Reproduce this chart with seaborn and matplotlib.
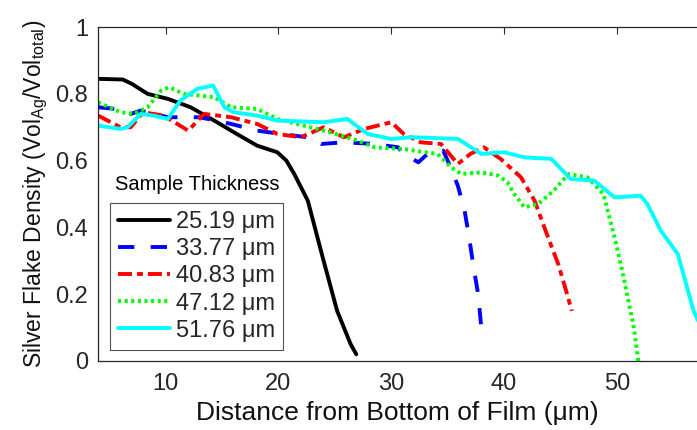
import matplotlib
matplotlib.use("Agg")
import matplotlib.pyplot as plt
import seaborn as sns
import pandas as pd

# ---------------- data ----------------
labels = ["25.19 μm", "33.77 μm", "40.83 μm", "47.12 μm", "51.76 μm"]

black_x = [4, 6.2, 7, 8.4, 10.2, 12.2, 14.3, 16.3, 18.1, 19.9, 20.7, 21.4, 22.6, 24.0, 25.2, 26.4, 26.9]
black_y = [0.845, 0.843, 0.83, 0.80, 0.785, 0.76, 0.72, 0.68, 0.645, 0.625, 0.60, 0.56, 0.48, 0.30, 0.15, 0.05, 0.02]

blue_x = [4, 5.5, 6.9, 7.8, 9, 10.2, 13, 15.8, 18.1, 20.2, 22.6, 23.8, 25.8, 28.5, 30.6, 31.1, 32.4,
          33.2, 34.6, 35.0, 35.9, 36.5, 36.9, 37.3, 37.7, 37.95]
blue_y = [0.76, 0.755, 0.74, 0.75, 0.74, 0.73, 0.73, 0.71, 0.69, 0.68, 0.67, 0.65, 0.655, 0.65, 0.64, 0.62, 0.595,
          0.62, 0.63, 0.60, 0.525, 0.45, 0.37, 0.28, 0.20, 0.11]

red_x = [4, 6, 6.9, 8, 9.8, 12, 13.4, 15.8, 18.1, 19.9, 22, 24, 25.8, 27.6, 30, 31.1, 32.6, 34.4, 35.9,
         37, 38.2, 39.7, 41.5, 42.7, 43.9, 44.8, 45.5, 46]
red_y = [0.735, 0.70, 0.70, 0.745, 0.735, 0.69, 0.74, 0.73, 0.71, 0.68, 0.67, 0.70, 0.67, 0.695, 0.715, 0.68,
         0.655, 0.65, 0.59, 0.62, 0.64, 0.605, 0.55, 0.48, 0.37, 0.29, 0.21, 0.15]

green_x = [4, 6, 7.2, 8.4, 9.6, 10.3, 11.6, 14.3, 15.8, 18.1, 19.9, 22.2, 24.6, 27, 28.5, 31.1, 32, 34.1,
           35.3, 36.2, 38, 39.5, 40.3, 40.9, 41.8, 43, 44.4, 45.7, 47.4, 48.8, 49.8, 50.6, 51.5, 51.9]
green_y = [0.775, 0.745, 0.74, 0.76, 0.81, 0.82, 0.80, 0.79, 0.76, 0.755, 0.725, 0.705, 0.685, 0.66, 0.64,
           0.635, 0.63, 0.62, 0.58, 0.56, 0.565, 0.555, 0.535, 0.50, 0.46, 0.47, 0.51, 0.56, 0.55, 0.50,
           0.37, 0.25, 0.10, 0.0]

cyan_x = [4, 6, 6.6, 7.8, 8.9, 10.2, 11.3, 12.8, 14.2, 15.2, 16, 18.1, 19.9, 24, 26.1, 27.9, 30, 31.7, 32,
          35.9, 38, 40, 41.8, 44.2, 45.9, 48, 49.8, 52.1, 52.7, 53.9, 55.4, 56.8, 57.2]
cyan_y = [0.705, 0.695, 0.70, 0.74, 0.735, 0.725, 0.78, 0.815, 0.825, 0.76, 0.745, 0.735, 0.72, 0.715,
          0.725, 0.68, 0.665, 0.67, 0.67, 0.665, 0.62, 0.625, 0.61, 0.605, 0.545, 0.54, 0.49, 0.495, 0.47,
          0.39, 0.32, 0.15, 0.12]

x_ticks = [10, 20, 30, 40, 50]
y_ticks = [0, 0.2, 0.4, 0.6, 0.8, 1]
y_ticklabels = ["0", "0.2", "0.4", "0.6", "0.8", "1"]

series_x = [black_x, blue_x, red_x, green_x, cyan_x]
series_y = [black_y, blue_y, red_y, green_y, cyan_y]
colors = ["#000000", "#0000ff", "#ff0000", "#00ff00", "#00ffff"]
styles = ["-", (0, (4.2, 4.2)), (0, (3.6, 1.3, 1.5, 1.3)), (0, (0.8, 0.9)), "-"]

# ---------------- plot ----------------
sns.set_style("white")
plt.rcParams["font.family"] = ["Liberation Sans", "DejaVu Sans"]

fig = plt.figure(figsize=(6.97, 4.30), dpi=100)
ax = fig.add_axes([0.1406, 0.1605, 0.8594, 0.7765])

for xs, ys, lab, c, ls in zip(series_x, series_y, labels, colors, styles):
    df = pd.DataFrame({"x": xs, "y": ys})
    sns.lineplot(data=df, x="x", y="y", ax=ax, color=c, linewidth=2.8,
                 linestyle=ls, label=lab, sort=False, estimator=None)
for line in ax.get_lines():
    line.set_solid_joinstyle("round")
    line.set_dash_joinstyle("round")

ax.set_xlim(4, 57.1)
ax.set_ylim(0, 1)
ax.set_xticks(x_ticks)
ax.set_yticks(y_ticks)
ax.set_yticklabels(y_ticklabels)
ax.tick_params(direction="in", length=5, width=0.8, labelsize=17, colors="#262626",
               top=True, right=False)
ax.tick_params(axis="x", pad=9)
ax.tick_params(axis="y", pad=7)
for lab in ax.get_xticklabels() + ax.get_yticklabels():
    lab.set_color("#262626")
for side in ["left", "bottom", "top"]:
    ax.spines[side].set_color("#262626")
    ax.spines[side].set_linewidth(0.9)
ax.spines["right"].set_visible(False)

ax.set_xlabel("Distance from Bottom of Film (μm)", fontsize=19, color="#111111", labelpad=4)
ax.set_ylabel("Silver Flake Density (Vol$_{\\mathregular{Ag}}$/Vol$_{\\mathregular{total}}$)",
              fontsize=16.5, color="#111111", labelpad=4)

leg = ax.legend(loc="lower left", bbox_to_anchor=(0.02, 0.033), borderaxespad=0,
                fontsize=17, frameon=True, fancybox=False, handlelength=2.2,
                handletextpad=0.25, labelspacing=0.22, borderpad=0.35)
leg.get_frame().set_edgecolor("#262626")
leg.get_frame().set_linewidth(0.8)
ax.text(0.165, 0.53, "Sample Thickness", transform=ax.transAxes, ha="center", va="center",
        fontsize=14.5, color="black")

fig.savefig("out.png", dpi=100)
